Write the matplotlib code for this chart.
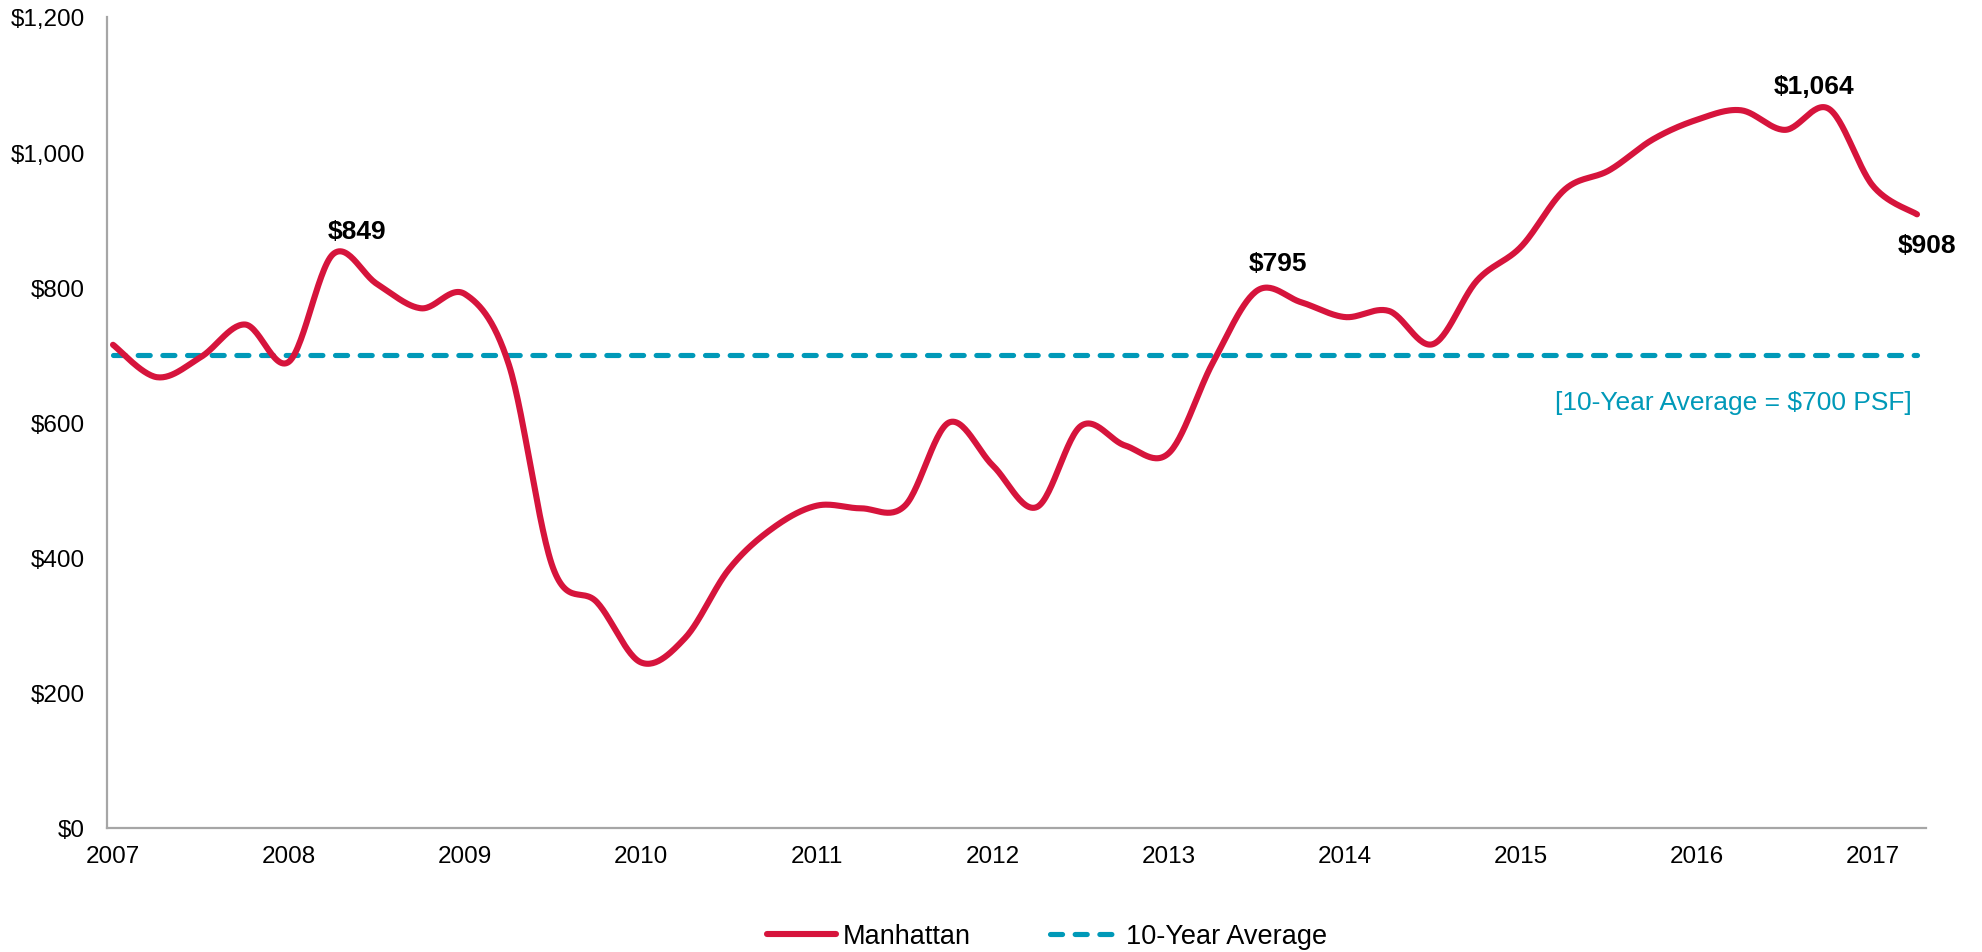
import numpy as np
import matplotlib
matplotlib.use("Agg")
import matplotlib.pyplot as plt
from matplotlib.ticker import FuncFormatter

plt.rcParams['font.family'] = ['Liberation Sans', 'DejaVu Sans']

# ---- data (quarterly, 2007 Q1 - 2017 Q2) ----
start_year = 2007
quarters = np.arange(42)
manhattan = [715, 667, 697, 745, 690, 849, 805, 769, 790, 685,
             385, 334, 245, 281, 383, 444, 477, 473, 477, 600,
             536, 475, 595, 566, 555, 689, 795, 778, 756, 765,
             716, 810, 860, 945, 973, 1019, 1048, 1062, 1033, 1064,
             950, 908]
average_value = 700
avg_series = [average_value] * len(manhattan)
year_ticks = list(range(2007, 2018))
y_ticks = [0, 200, 400, 600, 800, 1000, 1200]
labelled_points = {5: "$849", 26: "$795", 39: "$1,064", 41: "$908"}
label_offsets_px = {5: (24, 23), 26: (21, 28), 39: (-15, 23), 41: (10, -31)}

x = start_year + quarters / 4.0

RED = "#D6143C"
TEAL = "#0099B8"
GREY = "#A6A6A6"


def catmull_rom(xs, ys, n=30):
    xs = np.asarray(xs, float)
    ys = np.asarray(ys, float)
    px = np.concatenate([[xs[0]], xs, [xs[-1]]])
    py = np.concatenate([[ys[0]], ys, [ys[-1]]])
    outx, outy = [], []
    t = np.linspace(0, 1, n, endpoint=False)
    for i in range(1, len(px) - 2):
        p0x, p1x, p2x, p3x = px[i - 1], px[i], px[i + 1], px[i + 2]
        p0y, p1y, p2y, p3y = py[i - 1], py[i], py[i + 1], py[i + 2]
        m1x, m2x = (p2x - p0x) / 2, (p3x - p1x) / 2
        m1y, m2y = (p2y - p0y) / 2, (p3y - p1y) / 2
        h00 = 2 * t**3 - 3 * t**2 + 1
        h10 = t**3 - 2 * t**2 + t
        h01 = -2 * t**3 + 3 * t**2
        h11 = t**3 - t**2
        outx.append(h00 * p1x + h10 * m1x + h01 * p2x + h11 * m2x)
        outy.append(h00 * p1y + h10 * m1y + h01 * p2y + h11 * m2y)
    outx.append([xs[-1]])
    outy.append([ys[-1]])
    return np.concatenate(outx), np.concatenate(outy)


fig = plt.figure(figsize=(19.82, 9.53), dpi=100)
ax = fig.add_axes([107 / 1982, 1 - 829 / 953, (1926 - 107) / 1982, (829 - 18) / 953])

sx, sy = catmull_rom(x, manhattan)
ax.plot(sx, sy, color=RED, lw=4.4, solid_capstyle='round', solid_joinstyle='round',
        label="Manhattan", zorder=3)
ax.plot(x, avg_series, color=TEAL, lw=3.7, dashes=(2.35, 2.45), dash_capstyle='round',
        label="10-Year Average", zorder=2)

ax.set_xlim(2007 - 6 / 176, 2007 + 1813 / 176)
ax.set_ylim(0, 1200)
ax.set_xticks(year_ticks)
ax.set_xticklabels([str(y) for y in year_ticks])
ax.set_yticks(y_ticks)
ax.yaxis.set_major_formatter(FuncFormatter(lambda v, p: "${:,.0f}".format(v)))
ax.tick_params(axis='both', length=0, labelsize=17.5, colors='black')
ax.tick_params(axis='y', pad=16)
ax.tick_params(axis='x', pad=12)

for s in ['top', 'right']:
    ax.spines[s].set_visible(False)
for s in ['left', 'bottom']:
    ax.spines[s].set_color(GREY)
    ax.spines[s].set_linewidth(1.6)

for idx, txt in labelled_points.items():
    dx, dy = label_offsets_px[idx]
    ax.annotate(txt, xy=(x[idx], manhattan[idx]), xytext=(dx, dy),
                textcoords='offset pixels', ha='center', va='center',
                fontsize=19, fontweight='bold', color='black')

ax.text(1912 / 1982, 1 - 403 / 953, "[10-Year Average = $700 PSF]",
        transform=fig.transFigure, ha='right', va='center', fontsize=19, color=TEAL)

leg = fig.legend(loc='center', bbox_to_anchor=(1047 / 1982, 1 - 937 / 953), ncol=2,
                 frameon=False, fontsize=19.5, handlelength=2.55, handletextpad=0.26,
                 columnspacing=2.9)

fig.savefig("out.png", dpi=100)
